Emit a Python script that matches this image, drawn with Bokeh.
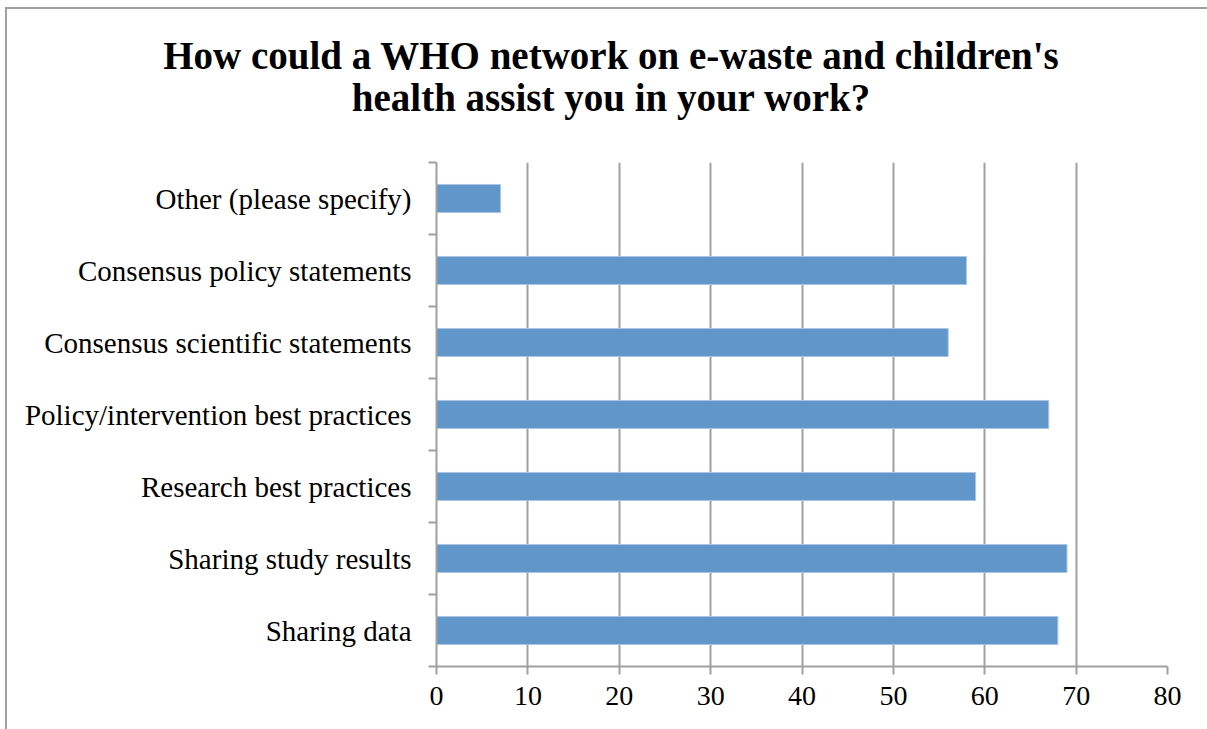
from bokeh.plotting import figure
from bokeh.models import Range1d, FixedTicker, Div
from bokeh.layouts import column
from bokeh.embed import file_html
from bokeh.resources import INLINE

categories = ["Sharing data", "Sharing study results", "Research best practices",
              "Policy/intervention best practices", "Consensus scientific statements",
              "Consensus policy statements", "Other (please specify)"]
values = [68, 69, 59, 67, 56, 58, 7]
x_ticks = [0, 10, 20, 30, 40, 50, 60, 70, 80]
title_lines = ["How could a WHO network on e-waste and children's",
               "health assist you in your work?"]

positions = [i + 0.5 for i in range(len(categories))]
boundaries = list(range(len(categories) + 1))

FONT = "Liberation Serif"
W, H = 1207, 729
TITLE_H = 132

title_html = (
    '<div style="width:1207px;box-sizing:border-box;padding:35px 0 0 15px;'
    'text-align:center;font-family:\'Liberation Serif\',serif;font-size:39px;'
    'font-weight:bold;line-height:42px;color:black;">'
    + "<br>".join(title_lines) + "</div>"
)
title_div = Div(text=title_html, width=W, height=TITLE_H, margin=(0, 0, 0, 0))

p = figure(width=W, height=H - TITLE_H, output_backend="svg", toolbar_location=None,
           x_range=Range1d(0, 80), y_range=Range1d(0, len(categories)),
           min_border_left=436, min_border_right=40, min_border_bottom=63,
           min_border_top=162 - TITLE_H, margin=(0, 0, 0, 0))

p.hbar(y=positions, right=values, left=0, height=0.39,
       fill_color="#6096C9", line_color="#A9C6E6", line_width=1)

p.outline_line_color = None
p.background_fill_color = "white"
p.border_fill_alpha = 0

# x axis
p.xaxis.ticker = FixedTicker(ticks=x_ticks)
p.xaxis.axis_line_color = "#A0A0A0"
p.xaxis.axis_line_width = 2
p.xaxis.major_tick_line_color = "#A0A0A0"
p.xaxis.major_tick_line_width = 2
p.xaxis.major_tick_out = 8
p.xaxis.major_tick_in = 0
p.xaxis.minor_tick_line_color = None
p.xaxis.major_label_text_font = FONT
p.xaxis.major_label_text_font_size = "28px"
p.xaxis.major_label_text_color = "black"
p.xaxis.major_label_standoff = 12

# y axis
p.yaxis.ticker = FixedTicker(ticks=positions, minor_ticks=boundaries)
p.yaxis.major_label_overrides = {pos: c for pos, c in zip(positions, categories)}
p.yaxis.axis_line_color = "#A0A0A0"
p.yaxis.axis_line_width = 2
p.yaxis.major_tick_line_color = None
p.yaxis.minor_tick_line_color = "#A0A0A0"
p.yaxis.minor_tick_line_width = 2
p.yaxis.minor_tick_out = 8
p.yaxis.minor_tick_in = 0
p.yaxis.major_label_text_font = FONT
p.yaxis.major_label_text_font_size = "29px"
p.yaxis.major_label_text_color = "black"
p.yaxis.major_label_standoff = 17

p.xgrid.ticker = FixedTicker(ticks=x_ticks)
p.xgrid.grid_line_color = "#A0A0A0"
p.xgrid.grid_line_width = 2
p.ygrid.grid_line_color = None

frame_bg = ("linear-gradient(#A0A0A0,#A0A0A0) 5px 7px / 2px calc(100% - 7px) no-repeat, "
            "linear-gradient(#A0A0A0,#A0A0A0) 5px 7px / calc(100% - 5px) 2px no-repeat, white")
layout = column(title_div, p, spacing=0, styles={"background": frame_bg})

open("out.html", "w").write(file_html(layout, INLINE))
